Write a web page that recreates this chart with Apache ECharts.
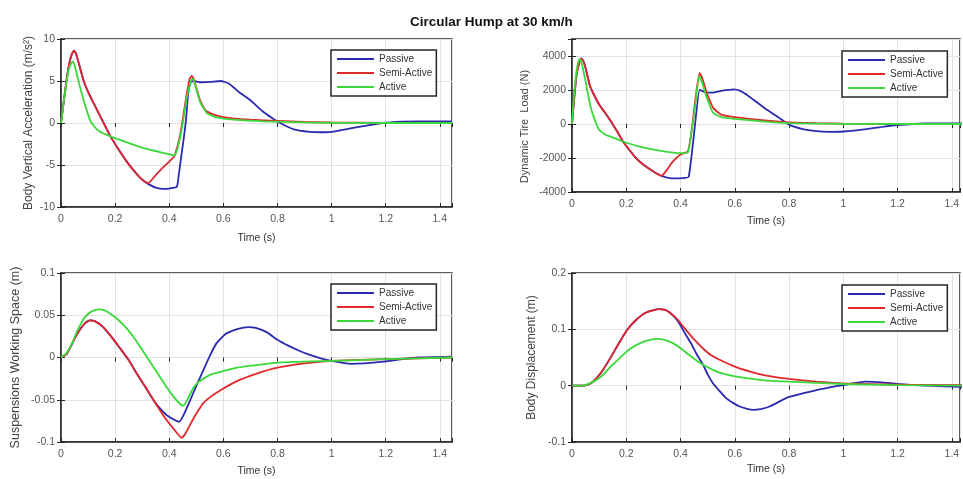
<!DOCTYPE html>
<html><head><meta charset="utf-8">
<script src="https://cdn.jsdelivr.net/npm/echarts@6/dist/echarts.min.js"></script>
<style>html,body{margin:0;padding:0;background:#fff}#c{width:963px;height:479px}</style>
</head><body><div id="c"></div>
<script>
// ---------- DATA ----------
const chartTitle = 'Circular Hump at 30 km/h';
const seriesNames = ['Passive', 'Semi-Active', 'Active'];
const xAxisTitle = 'Time (s)';
const yAxisTitles = ['Body Vertical Acceleration (m/s²)', 'Dynamic Tire  Load (N)', 'Suspensions Working Space (m)', 'Body Displacement (m)'];

// Body vertical acceleration (m/s^2) : [time, value]
const accPassive = [[0,0],[0.01,2.5],[0.02,5.0],[0.03,7.0],[0.04,8.2],[0.048,8.6],[0.055,8.3],[0.07,6.6],[0.083,5.1],[0.1,3.7],[0.12,2.4],[0.15,0.5],[0.181,-1.5],[0.21,-3.0],[0.243,-4.6],[0.27,-5.7],[0.292,-6.5],[0.31,-7.0],[0.33,-7.4],[0.35,-7.7],[0.378,-7.85],[0.40,-7.8],[0.428,-7.6],[0.436,-6.0],[0.446,-3.6],[0.455,-1.5],[0.462,0.4],[0.47,3.5],[0.48,4.9],[0.49,5.0],[0.514,4.85],[0.55,4.9],[0.59,5.0],[0.62,4.7],[0.661,3.6],[0.70,2.7],[0.745,1.4],[0.78,0.6],[0.81,0],[0.86,-0.75],[0.92,-1.05],[0.96,-1.1],[1.0,-1.05],[1.07,-0.65],[1.13,-0.3],[1.19,0],[1.26,0.15],[1.32,0.2],[1.445,0.2]];
const accSemi = [[0,0],[0.01,2.5],[0.02,5.0],[0.03,7.0],[0.04,8.2],[0.048,8.6],[0.055,8.3],[0.07,6.6],[0.083,5.1],[0.1,3.7],[0.12,2.4],[0.15,0.5],[0.181,-1.5],[0.21,-3.0],[0.243,-4.6],[0.27,-5.7],[0.292,-6.5],[0.31,-7.0],[0.323,-7.15],[0.35,-6.2],[0.38,-5.2],[0.40,-4.6],[0.42,-3.9],[0.44,-1.5],[0.46,2.5],[0.475,5.2],[0.483,5.6],[0.49,5.3],[0.50,4.2],[0.514,2.7],[0.53,1.7],[0.54,1.35],[0.576,0.88],[0.62,0.62],[0.7,0.4],[0.8,0.25],[0.9,0.12],[1.0,0.06],[1.2,0.02],[1.445,0]];
const accActive = [[0,0],[0.01,2.5],[0.02,4.8],[0.03,6.5],[0.04,7.2],[0.046,7.3],[0.055,6.3],[0.07,4.3],[0.083,2.8],[0.095,1.5],[0.108,0.3],[0.12,-0.3],[0.14,-0.95],[0.157,-1.25],[0.187,-1.65],[0.243,-2.3],[0.305,-3.0],[0.37,-3.5],[0.42,-3.85],[0.435,-2.5],[0.45,0.0],[0.465,3.0],[0.48,5.0],[0.487,5.3],[0.495,4.6],[0.514,2.5],[0.54,1.15],[0.576,0.67],[0.65,0.36],[0.75,0.2],[0.9,0.08],[1.0,0.03],[1.2,0],[1.445,0]];

// Dynamic tire load (N)
const tirePassive = [[0,0],[0.008,1500],[0.016,2800],[0.025,3500],[0.034,3860],[0.042,3700],[0.05,3300],[0.065,2300],[0.08,1750],[0.10,1150],[0.12,700],[0.139,260],[0.165,-400],[0.188,-1030],[0.21,-1500],[0.237,-2020],[0.26,-2350],[0.286,-2650],[0.31,-2900],[0.33,-3050],[0.35,-3150],[0.38,-3200],[0.41,-3180],[0.43,-3110],[0.45,-550],[0.47,2000],[0.48,1950],[0.495,1840],[0.52,1850],[0.55,1950],[0.596,2040],[0.62,1950],[0.65,1650],[0.713,900],[0.76,400],[0.8,-40],[0.85,-300],[0.9,-420],[0.95,-460],[1.0,-440],[1.086,-300],[1.15,-150],[1.2,-60],[1.3,30],[1.445,40]];
const tireSemi = [[0,0],[0.008,1500],[0.016,2800],[0.025,3500],[0.034,3860],[0.042,3700],[0.05,3300],[0.065,2300],[0.08,1750],[0.10,1150],[0.12,700],[0.139,260],[0.165,-400],[0.188,-1030],[0.21,-1500],[0.237,-2020],[0.26,-2350],[0.286,-2650],[0.31,-2900],[0.33,-3050],[0.35,-2700],[0.366,-2320],[0.397,-1820],[0.427,-1620],[0.44,-500],[0.455,1500],[0.47,3000],[0.48,2700],[0.495,1900],[0.51,1300],[0.52,950],[0.55,550],[0.6,400],[0.7,220],[0.8,100],[0.9,50],[1.0,20],[1.2,0],[1.445,0]];
const tireActive = [[0,0],[0.007,1600],[0.015,2900],[0.022,3600],[0.028,3820],[0.036,3550],[0.045,2900],[0.053,2240],[0.062,1500],[0.071,850],[0.085,200],[0.10,-340],[0.12,-600],[0.139,-730],[0.188,-1030],[0.25,-1330],[0.323,-1560],[0.397,-1720],[0.427,-1680],[0.44,-500],[0.455,1200],[0.468,2830],[0.478,2500],[0.495,1640],[0.51,1000],[0.52,650],[0.55,400],[0.6,300],[0.7,150],[0.8,50],[1.0,10],[1.2,0],[1.445,0]];

// Suspension working space (m)
const swsPassive = [[0,0],[0.02,0.004],[0.033,0.011],[0.05,0.022],[0.07,0.033],[0.09,0.041],[0.107,0.044],[0.125,0.043],[0.156,0.036],[0.185,0.025],[0.218,0.011],[0.25,-0.003],[0.28,-0.019],[0.31,-0.034],[0.341,-0.05],[0.365,-0.06],[0.39,-0.068],[0.415,-0.073],[0.437,-0.076],[0.45,-0.07],[0.47,-0.056],[0.489,-0.042],[0.505,-0.03],[0.526,-0.015],[0.55,0.002],[0.575,0.017],[0.605,0.027],[0.637,0.032],[0.67,0.035],[0.692,0.036],[0.72,0.035],[0.76,0.03],[0.8,0.021],[0.84,0.014],[0.88,0.008],[0.92,0.003],[0.96,-0.001],[1.0,-0.004],[1.07,-0.0075],[1.12,-0.007],[1.19,-0.005],[1.26,-0.002],[1.32,0],[1.445,0.001]];
const swsSemi = [[0,0],[0.02,0.004],[0.033,0.011],[0.05,0.022],[0.07,0.033],[0.09,0.041],[0.107,0.044],[0.125,0.043],[0.156,0.036],[0.185,0.025],[0.218,0.011],[0.25,-0.003],[0.28,-0.019],[0.31,-0.034],[0.341,-0.05],[0.365,-0.062],[0.39,-0.074],[0.42,-0.086],[0.446,-0.095],[0.46,-0.09],[0.483,-0.076],[0.505,-0.064],[0.526,-0.054],[0.555,-0.046],[0.588,-0.039],[0.65,-0.028],[0.723,-0.019],[0.8,-0.012],[0.9,-0.007],[1.0,-0.004],[1.2,-0.002],[1.445,0]];
const swsActive = [[0,0],[0.02,0.005],[0.04,0.016],[0.058,0.03],[0.075,0.041],[0.089,0.048],[0.11,0.054],[0.138,0.057],[0.16,0.056],[0.181,0.052],[0.21,0.045],[0.243,0.0345],[0.275,0.021],[0.304,0.007],[0.335,-0.008],[0.366,-0.023],[0.39,-0.035],[0.415,-0.046],[0.44,-0.055],[0.452,-0.057],[0.465,-0.051],[0.489,-0.036],[0.505,-0.03],[0.526,-0.025],[0.555,-0.02],[0.588,-0.017],[0.65,-0.012],[0.723,-0.009],[0.8,-0.006],[1.0,-0.004],[1.2,-0.002],[1.445,0]];

// Body displacement (m)
const dispPassive = [[0,0],[0.04,0],[0.065,0.003],[0.09,0.013],[0.114,0.028],[0.145,0.052],[0.176,0.078],[0.205,0.1],[0.237,0.117],[0.27,0.129],[0.317,0.136],[0.34,0.135],[0.36,0.13],[0.39,0.115],[0.421,0.089],[0.44,0.074],[0.458,0.057],[0.483,0.037],[0.50,0.02],[0.52,0.004],[0.545,-0.01],[0.568,-0.022],[0.595,-0.031],[0.618,-0.037],[0.645,-0.041],[0.667,-0.043],[0.7,-0.041],[0.728,-0.037],[0.8,-0.02],[0.9,-0.008],[0.95,-0.003],[1.0,0.001],[1.08,0.007],[1.14,0.006],[1.2,0.003],[1.3,0],[1.445,-0.002]];
const dispSemi = [[0,0],[0.04,0],[0.065,0.003],[0.09,0.013],[0.114,0.028],[0.145,0.052],[0.176,0.078],[0.205,0.1],[0.237,0.117],[0.27,0.129],[0.317,0.136],[0.34,0.135],[0.36,0.13],[0.39,0.117],[0.42,0.099],[0.45,0.082],[0.483,0.066],[0.51,0.055],[0.544,0.046],[0.605,0.033],[0.68,0.022],[0.728,0.017],[0.8,0.012],[0.9,0.007],[1.0,0.004],[1.2,0.002],[1.445,0.001]];
const dispActive = [[0,0],[0.04,0],[0.065,0.004],[0.09,0.01],[0.114,0.019],[0.145,0.035],[0.176,0.049],[0.205,0.062],[0.237,0.072],[0.27,0.079],[0.317,0.083],[0.35,0.08],[0.384,0.072],[0.415,0.061],[0.446,0.049],[0.483,0.037],[0.52,0.028],[0.544,0.023],[0.605,0.016],[0.7,0.01],[0.8,0.007],[1.0,0.003],[1.2,0.001],[1.445,0]];

// Axis ranges [min, max, step]
const xRanges = [[0,1.445,0.2],[0,1.43,0.2],[0,1.445,0.2],[0,1.43,0.2]];
const yRanges = [[-10,10,5],[-4000,5000,2000],[-0.1,0.1,0.05],[-0.1,0.2,0.1]];

const panelData = [
  [accPassive, accSemi, accActive],
  [tirePassive, tireSemi, tireActive],
  [swsPassive, swsSemi, swsActive],
  [dispPassive, dispSemi, dispActive]
];

// ---------- LAYOUT / STYLE ----------
const FONT = "'Liberation Sans', Arial, sans-serif";
const colors = ['#2a2ab0', '#e0282b', '#3ad83a'];
const layout = [
  {grid:{left:61, top:39, width:391, height:168}, yNameGap:26, yNamePad:[0,0,0,0], yNameSize:12, xNameGap:26, legend:{left:331, top:50}},
  {grid:{left:572, top:39, width:388, height:153}, yNameGap:42, yNamePad:[0,22,0,0], yNameSize:11, xNameGap:24, legend:{left:842, top:51}},
  {grid:{left:61, top:273, width:391, height:169}, yNameGap:39, yNamePad:[0,0,0,0], yNameSize:12.5, xNameGap:24, legend:{left:331, top:284}},
  {grid:{left:572, top:273, width:388, height:169}, yNameGap:34, yNamePad:[0,0,0,0], yNameSize:12, xNameGap:22, legend:{left:842, top:285}}
];

function isMultiple(v, step) {
  const r = v / step;
  return Math.abs(r - Math.round(r)) < 1e-6;
}

const grids = [], xAxes = [], yAxes = [], series = [], legends = [];
layout.forEach((L, i) => {
  grids.push(Object.assign({show:true, borderColor:'#262626', borderWidth:1.5, backgroundColor:'#fff', containLabel:false}, L.grid));
  const [x0, x1, xs] = xRanges[i];
  const [y0, y1, ys] = yRanges[i];
  const tickStyle = {show:true, inside:true, length:4, lineStyle:{color:'#262626', width:1}};
  xAxes.push({
    type:'value', gridIndex:i, min:x0, max:x1, interval:xs, position:'bottom',
    name:xAxisTitle, nameLocation:'middle', nameGap:L.xNameGap,
    nameTextStyle:{fontFamily:FONT, fontSize:10.5, color:'#333'},
    axisLine:{show:true, onZero:false, lineStyle:{color:'#262626', width:1.5}},
    axisTick:tickStyle,
    axisLabel:{fontFamily:FONT, fontSize:10.5, color:'#555', margin:7,
      formatter: v => isMultiple(v, xs) ? String(+v.toFixed(2)) : ''},
    splitLine:{show:true, lineStyle:{color:'#e2e2e2', width:1}}
  });
  xAxes.push({
    type:'value', gridIndex:i, min:x0, max:x1, interval:xs, position:'top',
    axisLine:{show:false}, axisTick:tickStyle, axisLabel:{show:false}, splitLine:{show:false}
  });
  yAxes.push({
    type:'value', gridIndex:i, min:y0, max:y1, interval:ys, position:'left',
    name:yAxisTitles[i], nameLocation:'middle', nameGap:L.yNameGap, nameRotate:90,
    nameTextStyle:{fontFamily:FONT, fontSize:L.yNameSize, color:'#444', padding:L.yNamePad},
    axisLine:{show:true, onZero:false, lineStyle:{color:'#262626', width:1.5}},
    axisTick:tickStyle,
    axisLabel:{fontFamily:FONT, fontSize:10.5, color:'#555', margin:6,
      formatter: v => isMultiple(v, ys) && isMultiple(v - y0, ys) ? String(+v.toFixed(3)) : ''},
    splitLine:{show:true, lineStyle:{color:'#e2e2e2', width:1}}
  });
  yAxes.push({
    type:'value', gridIndex:i, min:y0, max:y1, interval:ys, position:'right',
    axisLine:{show:false}, axisTick:tickStyle, axisLabel:{show:false}, splitLine:{show:false}
  });
  panelData[i].forEach((data, k) => {
    series.push({
      type:'line', name:seriesNames[k], xAxisIndex:2*i, yAxisIndex:2*i,
      data:data, showSymbol:false, symbol:'none', smooth:0.15,
      lineStyle:{color:colors[k], width:1.8}, itemStyle:{color:colors[k]},
      animation:false, z:2 + k
    });
  });
  legends.push({
    data:seriesNames, orient:'vertical', left:L.legend.left, top:L.legend.top,
    icon:'rect',
    itemWidth:37, itemHeight:2, itemGap:4, padding:[4,4,4,6],
    backgroundColor:'#fff', borderColor:'#262626', borderWidth:1.5,
    textStyle:{fontFamily:FONT, fontSize:10, color:'#333', lineHeight:10},
    selectedMode:false
  });
});

const chart = echarts.init(document.getElementById('c'), null, {renderer:'canvas'});
chart.setOption({
  backgroundColor:'#fff',
  animation:false,
  title:{text:chartTitle, left:405, top:10, textStyle:{fontFamily:FONT, fontSize:13.5, fontWeight:'bold', color:'#111'}},
  grid:grids, xAxis:xAxes, yAxis:yAxes, series:series, legend:legends
});
</script></body></html>
